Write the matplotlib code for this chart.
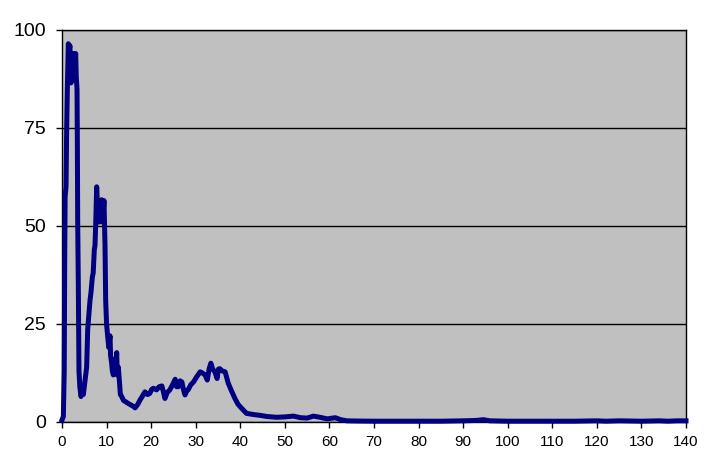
import matplotlib
matplotlib.use('Agg')
import matplotlib.pyplot as plt

# values
x_vals = [0.0, 0.3, 0.5, 0.6, 0.7, 0.9, 1.05, 1.2, 1.3, 1.42, 1.6, 1.79, 1.9, 2.02,
          2.2, 2.32, 2.45, 2.54, 2.8, 3.07, 3.2, 3.37, 3.45, 3.52, 3.66, 3.81, 4.0,
          4.26, 4.5, 4.79, 5.1, 5.53, 5.76, 6.0, 6.28, 6.5, 6.81, 7.0, 7.25, 7.4,
          7.55, 7.78, 7.9, 8.0, 8.15, 8.3, 8.38, 8.6, 8.9, 9.1, 9.42, 9.55, 9.65,
          9.8, 10.0, 10.25, 10.5, 10.77, 10.9, 11.14, 11.3, 11.52, 11.8, 12.0,
          12.27, 12.4, 12.64, 12.9, 13.1, 13.39, 13.8, 14.51, 15.2, 16.0, 16.4,
          17.0, 17.5, 18.0, 18.6, 19.2, 19.7, 20.1, 20.5, 21.2, 21.8, 22.4, 22.8,
          23.1, 23.6, 24.2, 24.8, 25.4, 25.7, 26.1, 26.5, 26.9, 27.2, 27.6, 28.0,
          28.3, 28.9, 29.5, 30.2, 31.0, 31.5, 32.1, 32.6, 33.0, 33.4, 33.8, 34.3,
          34.8, 35.1, 35.4, 36.0, 36.6, 37.3, 38.0, 38.8, 39.5, 40.3, 41.4, 43.0,
          44.4, 46.0, 48.2, 50.0, 51.9, 53.5, 55.0, 56.4, 57.9, 59.5, 61.3, 62.5,
          63.9, 66, 70, 75, 80, 85, 90, 93, 94.5, 96, 100, 105, 110, 115, 120,
          122, 125, 130, 134, 136, 138, 140]
y_vals = [0.5, 1.4, 13, 40, 57.5, 60, 75, 85, 90, 96.5, 95, 96, 88, 86.5,
          90, 87, 92, 94, 90, 94, 88, 85, 70, 51.5, 35, 13, 9,
          6.5, 7.5, 7, 10, 14, 23.5, 27, 31, 33, 37, 38, 44, 45,
          50, 60, 57, 53, 52.5, 55, 51, 56, 56.7, 51, 56.5, 50, 45,
          31, 25, 21.8, 19, 22, 17, 15, 13, 12, 16, 13,
          17.7, 12, 14, 10, 7, 6.5, 5.5, 5, 4.5, 4.0, 3.6,
          4.5, 5.6, 6.5, 7.7, 7.0, 7.3, 8.3, 8.6, 8.2, 9.0, 9.2, 7.5,
          6.0, 7.5, 8.2, 9.5, 10.9, 9.0, 9.0, 10.5, 10.2, 8.5, 6.9, 8.0,
          8.2, 9.5, 10.2, 11.5, 12.8, 12.5, 12.0, 10.7, 13.5, 15.0, 13.5, 12.8,
          11.1, 13.5, 13.6, 13.0, 12.8, 9.9, 8.0, 6.0, 4.5, 3.5, 2.2, 1.9,
          1.7, 1.4, 1.2, 1.3, 1.5, 1.1, 1.0, 1.5, 1.2, 0.8, 1.1, 0.6,
          0.3, 0.25, 0.2, 0.2, 0.2, 0.2, 0.3, 0.4, 0.6, 0.3, 0.2, 0.2, 0.2, 0.2, 0.3,
          0.2, 0.3, 0.2, 0.3, 0.2, 0.3, 0.3]
x_ticks = list(range(0, 141, 10))
y_ticks = [0, 25, 50, 75, 100]

plt.rcParams['font.family'] = ['Liberation Sans', 'DejaVu Sans']

fig = plt.figure(figsize=(7.05, 4.71), dpi=100)
ax = fig.add_axes([62 / 705, 1 - 422 / 471, 624 / 705, 392 / 471])
ax.set_facecolor('#C0C0C0')
ax.plot(x_vals, y_vals, color='#000080', linewidth=3.6, solid_joinstyle='round',
        clip_on=False, zorder=3)
ax.set_xlim(0, 140)
ax.set_ylim(0, 100)
ax.set_xticks(x_ticks)
ax.set_yticks(y_ticks)
ax.yaxis.grid(True, color='black', linewidth=1)
ax.set_axisbelow(True)
for s in ax.spines.values():
    s.set_color('black')
    s.set_linewidth(1)
ax.tick_params(axis='x', length=4, width=1, labelsize=11, pad=5)
ax.tick_params(axis='y', length=4.5, width=1, labelsize=14, pad=7)

plt.savefig('out.png', dpi=100)
plt.close('all')
